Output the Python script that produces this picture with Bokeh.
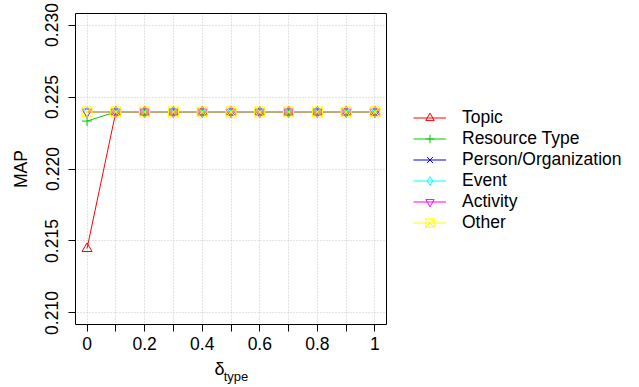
from bokeh.plotting import figure
from bokeh.models import FixedTicker, Range1d, Legend, LegendItem, LinearAxis
from bokeh.embed import file_html
from bokeh.resources import INLINE

x_vals = [0.0, 0.1, 0.2, 0.3, 0.4, 0.5, 0.6, 0.7, 0.8, 0.9, 1.0]
topic = [0.21447, 0.22396, 0.22396, 0.22396, 0.22396, 0.22396, 0.22396, 0.22396, 0.22396, 0.22396, 0.22396]
resource_type = [0.22333, 0.22396, 0.22396, 0.22396, 0.22396, 0.22396, 0.22396, 0.22396, 0.22396, 0.22396, 0.22396]
person_org = [0.22396, 0.22396, 0.22396, 0.22396, 0.22396, 0.22396, 0.22396, 0.22396, 0.22396, 0.22396, 0.22396]
event = [0.22396, 0.22396, 0.22396, 0.22396, 0.22396, 0.22396, 0.22396, 0.22396, 0.22396, 0.22396, 0.22396]
activity = [0.22396, 0.22396, 0.22396, 0.22396, 0.22396, 0.22396, 0.22396, 0.22396, 0.22396, 0.22396, 0.22396]
other = [0.22396, 0.22396, 0.22396, 0.22396, 0.22396, 0.22396, 0.22396, 0.22396, 0.22396, 0.22396, 0.22396]

series_names = ["Topic", "Resource Type", "Person/Organization", "Event", "Activity", "Other"]
series_values = [topic, resource_type, person_org, event, activity, other]
series_colors = ["#FF0000", "#00CD00", "#0000FF", "#00FFFF", "#FF00FF", "#FFFF00"]
series_markers = ["triangle", "cross", "x", "diamond", "inverted_triangle", "square_x"]

x_ticks = [0.0, 0.1, 0.2, 0.3, 0.4, 0.5, 0.6, 0.7, 0.8, 0.9, 1.0]
x_tick_labels = ["0", "", "0.2", "", "0.4", "", "0.6", "", "0.8", "", "1"]
y_ticks = [0.210, 0.215, 0.220, 0.225, 0.230]
y_tick_labels = ["0.210", "0.215", "0.220", "0.225", "0.230"]

FONT = "Liberation Sans"
FS = "17.5px"
NB = "\u00a0"
W, H = 639, 387
# plot box (pixels) and its data limits
BL, BR, BT, BB = 75, 386, 13, 324
bx0, bx1 = -0.04, 1.04
by0, by1 = 0.2092, 0.2308
# frame: 1px larger than the box on left/top/bottom, extends to the right edge for the legend
FL, FT, FB = BL - 1, BT - 1, BB + 1
ppx = (BR - BL) / (bx1 - bx0)
ppy = (BB - BT) / (by1 - by0)
fx0 = bx0 - (BL - FL) / ppx
fx1 = bx1 + (W - BR) / ppx
fy0 = by0 - (FB - BB) / ppy
fy1 = by1 + (BT - FT) / ppy

p = figure(width=W, height=H, output_backend="svg", toolbar_location=None,
           x_range=Range1d(fx0, fx1), y_range=Range1d(fy0, fy1),
           min_border_left=FL, min_border_right=0, min_border_top=FT, min_border_bottom=H - FB)
p.background_fill_color = "white"
p.border_fill_color = "white"
p.outline_line_color = None

for ax in (p.xaxis[0], p.yaxis[0]):
    ax.axis_line_color = None
    ax.major_tick_line_color = "black"
    ax.major_tick_out = 6
    ax.major_tick_in = 1
    ax.minor_tick_line_color = None
    ax.major_label_text_font = FONT
    ax.major_label_text_font_size = FS
    ax.major_label_text_color = "black"

p.xaxis.ticker = FixedTicker(ticks=x_ticks)
p.xaxis.major_label_overrides = {t: s for t, s in zip(x_ticks, x_tick_labels)}
p.xaxis.major_label_standoff = 5
p.xaxis.axis_label = "δ" + NB * 55
p.xaxis.axis_label_text_font = FONT
p.xaxis.axis_label_text_font_size = "18px"
p.xaxis.axis_label_text_font_style = "normal"
p.xaxis.axis_label_text_color = "black"
p.xaxis.axis_label_standoff = 6

sub_axis = LinearAxis(ticker=FixedTicker(ticks=[]), axis_line_color=None,
                      major_tick_out=0, major_tick_in=0, minor_tick_out=0, minor_tick_in=0,
                      major_label_standoff=0,
                      axis_label="type" + NB * 67, axis_label_text_font=FONT,
                      axis_label_text_font_size="13px", axis_label_text_font_style="normal",
                      axis_label_text_color="black", axis_label_standoff=-13)
p.add_layout(sub_axis, "below")

p.yaxis.ticker = FixedTicker(ticks=y_ticks)
p.yaxis.major_label_overrides = {t: s for t, s in zip(y_ticks, y_tick_labels)}
p.yaxis.major_label_orientation = "vertical"
p.yaxis.major_label_standoff = 10
p.yaxis.axis_label = "MAP"
p.yaxis.axis_label_text_font = FONT
p.yaxis.axis_label_text_font_size = FS
p.yaxis.axis_label_text_font_style = "normal"
p.yaxis.axis_label_text_color = "black"
p.yaxis.axis_label_standoff = 12

for g in (p.xgrid[0], p.ygrid[0]):
    g.grid_line_color = "#C8C8C8"
    g.grid_line_dash = "1 2"
    g.grid_line_width = 1

# white area right of the plot box (legend area) and the box itself
p.quad(left=[bx1], right=[fx1], bottom=[fy0], top=[fy1], fill_color="white", line_color=None)

items = []
for name, vals, col, mk in zip(series_names, series_values, series_colors, series_markers):
    ln = p.line(x_vals, vals, line_color=col, line_width=1)
    sc = p.scatter(x_vals, vals, marker=mk, size=10, line_color=col, fill_color=None, line_width=1)
    items.append(LegendItem(label=name, renderers=[ln, sc]))

p.quad(left=[bx0], right=[bx1], bottom=[by0], top=[by1], fill_color=None, line_color="black", line_width=1)

legend = Legend(items=items, location=(413 - FL, FB - 233), padding=0, margin=0,
                border_line_color=None, background_fill_alpha=0,
                label_text_font=FONT, label_text_font_size=FS, label_text_color="black",
                glyph_width=33, glyph_height=21, label_height=21, label_standoff=16, spacing=0)
p.add_layout(legend, "center")

open("out.html", "w").write(file_html(p, INLINE))
